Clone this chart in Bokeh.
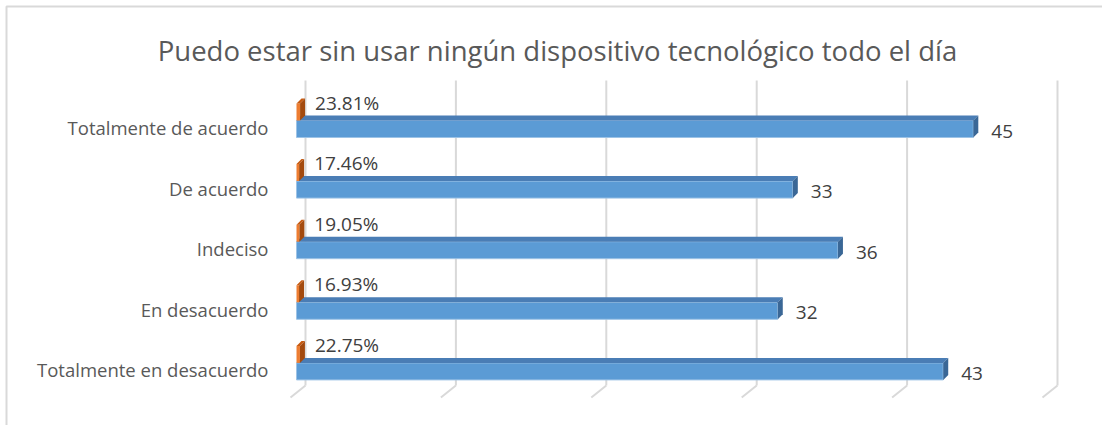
from bokeh.plotting import figure
from bokeh.models import Range1d, ColumnDataSource
from bokeh.core.properties import value
from bokeh.embed import file_html
from bokeh.resources import INLINE

categories = ["Totalmente de acuerdo", "De acuerdo", "Indeciso", "En desacuerdo", "Totalmente en desacuerdo"]
counts = [45, 33, 36, 32, 43]
percents = [23.81, 17.46, 19.05, 16.93, 22.75]
percent_labels = ["23.81%", "17.46%", "19.05%", "16.93%", "22.75%"]
grid_ticks = [0, 10, 20, 30, 40, 50]
title_text = "Puedo estar sin usar ningún dispositivo tecnológico todo el día"

W, H = 1102, 425
X0 = 296.0      # pixel of value 0
SX = 15.04      # pixels per unit
Y0 = 128.5      # pixel of first category center
SY = 60.6       # pixels per category

def ux(px):
    return px / SX

def uy(px):
    return px / SY

p = figure(width=W, height=H, output_backend="svg", toolbar_location=None,
           x_range=Range1d(-X0 / SX, (W - X0) / SX),
           y_range=Range1d((H - Y0) / SY, -Y0 / SY),
           min_border=0, x_axis_location=None, y_axis_location=None)
p.grid.visible = False
p.outline_line_color = None
p.background_fill_color = "white"

FONT = "Open Sans"
TXT = "#595959"
DTXT = "#404040"

# chart border (top & left visible)
p.quad(left=[ux(6 - X0)], right=[ux(W + 40 - X0)], top=[uy(6 - Y0)], bottom=[uy(H + 40 - Y0)],
       fill_color=None, line_color="#d9d9d9", line_width=2)

# gridlines with 3D floor stubs
gd = ux(9)
gx0 = [t + gd for t in grid_ticks]
p.segment(x0=gx0, y0=[uy(80 - Y0)] * len(gx0), x1=gx0, y1=[uy(385 - Y0)] * len(gx0),
          line_color="#d9d9d9", line_width=2)
p.segment(x0=gx0, y0=[uy(385 - Y0)] * len(gx0), x1=[t - ux(6) for t in grid_ticks],
          y1=[uy(397 - Y0)] * len(gx0), line_color="#d9d9d9", line_width=2)

dx, dy = ux(5), uy(5)
h = uy(8.5)
idx = list(range(len(categories)))

# blue bars (counts)
p.quad(left=[0] * len(counts), right=counts, top=[i - h for i in idx], bottom=[i + h for i in idx],
       fill_color="#5b9bd5", line_color="#9dc3e6", line_width=1)
p.patches(xs=[[0, c, c + dx, dx] for c in counts],
          ys=[[i - h, i - h, i - h - dy, i - h - dy] for i in idx],
          fill_color="#4a7db5", line_color=None)
p.patches(xs=[[c, c + dx, c + dx, c] for c in counts],
          ys=[[i - h, i - h - dy, i + h - dy, i + h] for i in idx],
          fill_color="#3a6796", line_color=None)

# orange bars (percent as fraction)
fr = [v / 100 for v in percents]
ot = uy(25.5)
p.quad(left=[0] * len(fr), right=fr, top=[i - ot for i in idx], bottom=[i - h for i in idx],
       fill_color="#ed7d31", line_color=None)
p.patches(xs=[[0, f, f + dx, dx] for f in fr],
          ys=[[i - ot, i - ot, i - ot - dy, i - ot - dy] for i in idx],
          fill_color="#c55a11", line_color=None)
p.patches(xs=[[f, f + dx, f + dx, f] for f in fr],
          ys=[[i - ot, i - ot - dy, i - h - dy, i - h] for i in idx],
          fill_color="#a34a0e", line_color=None)

# labels
src = ColumnDataSource(dict(cat=categories, cnt=[str(c) for c in counts], c=counts,
                            pl=percent_labels, f=fr, i=idx,
                            yc=[i - uy(1.5) for i in idx],
                            yn=[i + uy(2) for i in idx],
                            yp=[i - uy(26.5) for i in idx], z=[0] * len(idx)))
p.text(x="z", y="yc", text="cat", source=src, x_offset=-28, text_align="right",
       text_baseline="middle", text_font=value(FONT), text_font_size="18.5px", text_color=TXT)
p.text(x="c", y="yn", text="cnt", source=src, x_offset=18, text_align="left",
       text_baseline="middle", text_font=value(FONT), text_font_size="19px", text_color=DTXT)
p.text(x="f", y="yp", text="pl", source=src, x_offset=15, text_align="left",
       text_baseline="middle", text_font=value(FONT), text_font_size="19px", text_color=DTXT)

# title
p.text(x=[ux(557 - X0)], y=[uy(50 - Y0)], text=[title_text], text_align="center",
       text_baseline="middle", text_font=value(FONT), text_font_size="27.5px", text_color=TXT)

open("out.html", "w").write(file_html(p, INLINE))
